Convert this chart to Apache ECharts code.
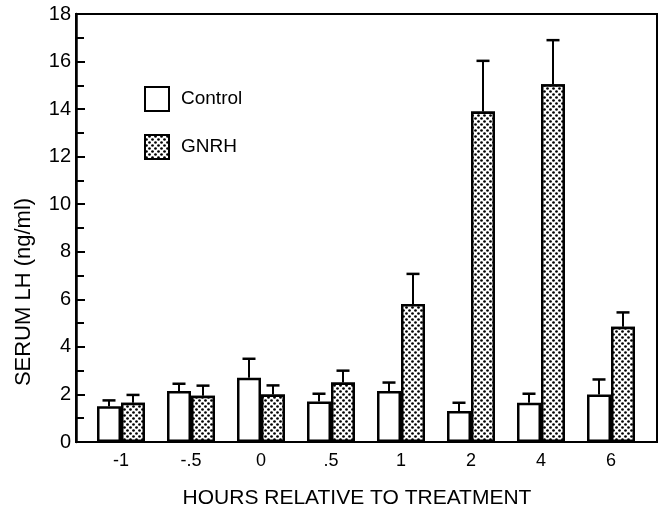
<!DOCTYPE html>
<html><head><meta charset="utf-8">
<script src="https://cdn.jsdelivr.net/npm/echarts@6/dist/echarts.min.js"></script>
<style>html,body{margin:0;padding:0;background:#fff}#c{width:659px;height:516px}</style>
</head><body><div id="c"></div>
<script>
const categories = ['-1', '-.5', '0', '.5', '1', '2', '4', '6'];
const controlValues = [1.5, 2.15, 2.7, 1.7, 2.15, 1.3, 1.65, 2.0];
const controlErr = [0.25, 0.3, 0.8, 0.33, 0.35, 0.35, 0.38, 0.63];
const gnrhValues = [1.65, 1.95, 2.0, 2.5, 5.8, 13.9, 15.05, 4.85];
const gnrhErr = [0.33, 0.42, 0.38, 0.5, 1.27, 2.13, 1.85, 0.6];
const yTicks = [0, 2, 4, 6, 8, 10, 12, 14, 16, 18];

const FONT = "'Liberation Sans', Arial, sans-serif";
const BAR_W = 24;
const INK = '#000';

function errData(vals, errs) {
  return vals.map((v, i) => [i, v, errs[i]]);
}
function errRender(shift) {
  return function (params, api) {
    const i = api.value(0), v = api.value(1), e = api.value(2);
    const p0 = api.coord([i, v]);
    const p1 = api.coord([i, v + e]);
    const x = p0[0] + shift;
    return {
      type: 'group',
      children: [
        { type: 'line', shape: { x1: x, y1: p0[1], x2: x, y2: p1[1] }, style: { stroke: INK, lineWidth: 2 } },
        { type: 'line', shape: { x1: x - 6.5, y1: p1[1], x2: x + 6.5, y2: p1[1] }, style: { stroke: INK, lineWidth: 2.5 } }
      ]
    };
  };
}

const dots = { symbol: 'circle', symbolSize: 0.9, color: INK, backgroundColor: '#fff',
  dashArrayX: [[2.5, 2.5], [0, 2.5, 2.5, 0]], dashArrayY: [2.5, 0], rotation: 0 };

const chart = echarts.init(document.getElementById('c'), null, { renderer: 'canvas' });
chart.setOption({
  animation: false,
  backgroundColor: '#fff',
  grid: [
    { left: 76, right: 2, top: 14, bottom: 74, show: true, borderColor: INK, borderWidth: 2, backgroundColor: 'transparent' },
    { left: 86, right: 13, top: 14, bottom: 74 }
  ],
  xAxis: [
    { gridIndex: 0, type: 'value', min: 0, max: 1, show: false },
    {
      gridIndex: 1, type: 'category', data: categories,
      axisLine: { show: false }, axisTick: { show: false },
      axisLabel: { fontFamily: FONT, fontSize: 18, color: INK, margin: 10 },
      name: 'HOURS RELATIVE TO TREATMENT', nameLocation: 'middle', nameGap: 46,
      nameTextStyle: { fontFamily: FONT, fontSize: 21, color: INK, padding: [0, 18, 0, 0] }
    }
  ],
  yAxis: [
    {
      gridIndex: 0, type: 'value', min: 0, max: 18, interval: 2,
      axisLine: { show: true, lineStyle: { color: INK, width: 2.5 } },
      axisTick: { show: true, inside: true, length: 9, lineStyle: { color: INK, width: 2 } },
      minorTick: { show: true, splitNumber: 2, length: 8, lineStyle: { color: INK, width: 2 } },
      splitLine: { show: false },
      axisLabel: { fontFamily: FONT, fontSize: 20, color: INK, margin: 5,
        formatter: v => (yTicks.indexOf(v) >= 0 ? String(v) : '') }
    },
    { gridIndex: 1, type: 'value', min: 0, max: 18, show: false }
  ],
  legend: {
    orient: 'vertical', left: 144, top: 86, padding: 0,
    itemWidth: 24, itemHeight: 24, itemGap: 22, icon: 'rect',
    data: ['Control', 'GNRH'],
    textStyle: { fontFamily: FONT, fontSize: 19, color: INK, padding: [0, 0, 0, 7] }
  },
  graphic: [{
    type: 'text', x: 24, y: 292, rotation: Math.PI / 2,
    style: { text: 'SERUM LH (ng/ml)', fontFamily: FONT, fontSize: 22, fill: INK, align: 'center', verticalAlign: 'middle' }
  }],
  series: [
    {
      name: 'Control', type: 'bar', xAxisIndex: 1, yAxisIndex: 1,
      data: controlValues, barWidth: BAR_W, barGap: '0%',
      itemStyle: { color: '#fff', borderColor: INK, borderWidth: 2.5 }
    },
    {
      name: 'GNRH', type: 'bar', xAxisIndex: 1, yAxisIndex: 1,
      data: gnrhValues, barWidth: BAR_W, barGap: '0%',
      itemStyle: { color: '#fff', borderColor: INK, borderWidth: 2.5, decal: dots }
    },
    {
      type: 'custom', xAxisIndex: 1, yAxisIndex: 1, z: 3,
      data: errData(controlValues, controlErr), renderItem: errRender(-BAR_W / 2), silent: true
    },
    {
      type: 'custom', xAxisIndex: 1, yAxisIndex: 1, z: 3,
      data: errData(gnrhValues, gnrhErr), renderItem: errRender(BAR_W / 2), silent: true
    }
  ]
});
</script>
</body></html>
